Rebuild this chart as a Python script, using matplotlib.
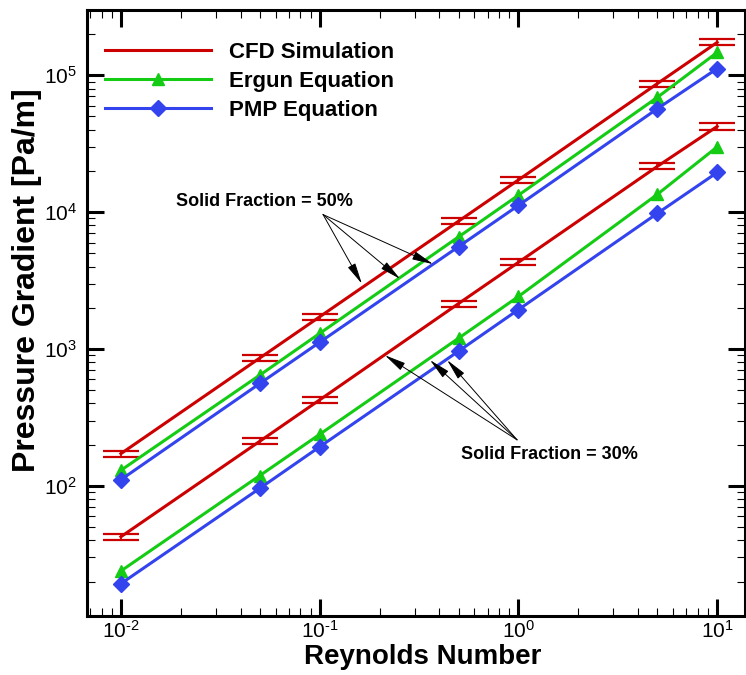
import numpy as np
import matplotlib
matplotlib.use('Agg')
import matplotlib.pyplot as plt
from matplotlib.lines import Line2D
from matplotlib.ticker import LogLocator, NullFormatter, FuncFormatter

plt.rcParams['font.family'] = 'Liberation Sans'
plt.rcParams['mathtext.fontset'] = 'custom'
plt.rcParams['mathtext.rm'] = 'Liberation Sans'
plt.rcParams['mathtext.default'] = 'regular'

# Reynolds numbers and pressure gradients
reynolds = [0.01, 0.05, 0.1, 0.5, 1, 5, 10]

cfd_50 = [172, 860, 1720, 8600, 17200, 87000, 174000]
cfd_50_err = [9, 44, 88, 440, 880, 4400, 8800]
ergun_50 = [130, 645, 1300, 6600, 13300, 69000, 147000]
pmp_50 = [111, 560, 1120, 5600, 11200, 57000, 112000]

cfd_30 = [42.5, 212, 425, 2150, 4300, 21600, 42300]
cfd_30_err = [2.2, 11, 22, 110, 220, 1100, 2150]
ergun_30 = [23.9, 119, 238, 1200, 2420, 13500, 30000]
pmp_30 = [19.3, 96, 193, 965, 1940, 9800, 19500]

red = '#cc0000'
green = '#14cc14'
blue = '#3344ee'


def pow10(v, pos):
    e = int(round(np.log10(v)))
    if e < 0:
        return r'$10^{\text{-}%d}$' % (-e)
    return r'$10^{%d}$' % e


fig = plt.figure(figsize=(7.46, 6.75), dpi=100)
ax = fig.add_axes([87 / 746, 59 / 675, 658 / 746, 606 / 675])

# CFD with double-bar error caps
for y, err in [(cfd_50, cfd_50_err), (cfd_30, cfd_30_err)]:
    ax.errorbar(reynolds, y, yerr=err, color=red, lw=2.2, capsize=13,
                capthick=1.6, elinewidth=1.2)

for y in [ergun_50, ergun_30]:
    ax.plot(reynolds, y, color=green, lw=2.2, marker='^', markersize=9)
for y in [pmp_50, pmp_30]:
    ax.plot(reynolds, y, color=blue, lw=2.2, marker='D', markersize=8)

ax.set_xscale('log')
ax.set_yscale('log')
ax.set_xlim(0.00675, 13.8)
ax.set_ylim(11.2, 3.0e5)

ax.xaxis.set_major_formatter(FuncFormatter(pow10))
ax.yaxis.set_major_formatter(FuncFormatter(pow10))
ax.xaxis.set_minor_locator(LogLocator(base=10, subs=np.arange(2, 10)))
ax.yaxis.set_minor_locator(LogLocator(base=10, subs=np.arange(2, 10)))
ax.xaxis.set_minor_formatter(NullFormatter())
ax.yaxis.set_minor_formatter(NullFormatter())

ax.tick_params(which='both', direction='in', top=True, right=True)
ax.tick_params(which='major', length=12, width=2.2, labelsize=15)
ax.tick_params(which='minor', length=6, width=0.8)
ax.tick_params(axis='x', which='major', pad=3)
ax.tick_params(axis='y', which='major', pad=7)
for s in ax.spines.values():
    s.set_linewidth(2.2)

ax.set_xlabel('Reynolds Number', fontsize=20, fontweight='bold')
ax.set_ylabel('Pressure Gradient [Pa/m]', fontsize=23, fontweight='bold')
ax.xaxis.set_label_coords(0.51, -0.046)
ax.yaxis.set_label_coords(-0.068, 0.554)

# annotations
arrow = dict(arrowstyle='-|>,head_length=1.0,head_width=0.2', color='black',
             lw=0.7, shrinkA=0, shrinkB=0)
ax.text(0.0525, 11970, 'Solid Fraction = 50%', ha='center', va='center',
        fontsize=13, fontweight='bold')
for tip in [(0.163, 3000), (0.254, 3250), (0.372, 4170)]:
    ax.annotate('', xy=tip, xytext=(0.104, 9600), arrowprops=arrow, fontsize=13)

ax.text(1.44, 169, 'Solid Fraction = 30%', ha='center', va='center',
        fontsize=13, fontweight='bold')
for tip in [(0.213, 900), (0.359, 830), (0.438, 830)]:
    ax.annotate('', xy=tip, xytext=(0.984, 217), arrowprops=arrow, fontsize=13)

handles = [
    Line2D([], [], color=red, lw=2.2),
    Line2D([], [], color=green, lw=2.2, marker='^', markersize=9),
    Line2D([], [], color=blue, lw=2.2, marker='D', markersize=8),
]
ax.legend(handles, ['CFD Simulation', 'Ergun Equation', 'PMP Equation'],
          loc='upper left', bbox_to_anchor=(0.027, 0.947), frameon=False,
          borderpad=0, borderaxespad=0, handlelength=4.8, handletextpad=0.8,
          labelspacing=0.35, numpoints=1,
          prop={'weight': 'bold', 'size': 16})

fig.savefig('out.png', dpi=100)
